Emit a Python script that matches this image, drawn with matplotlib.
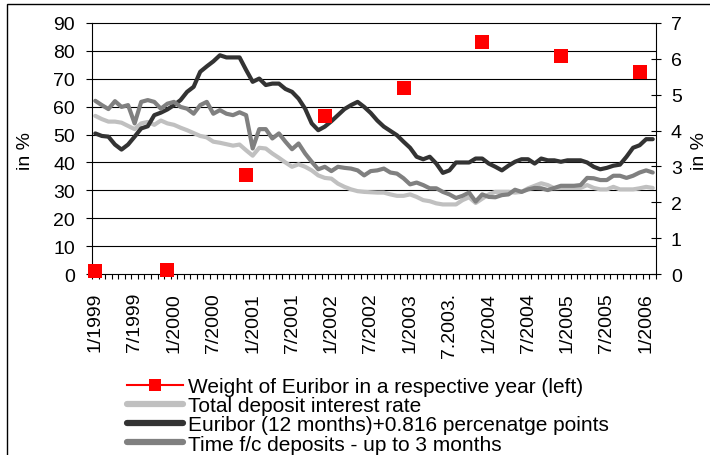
import numpy as np
import pandas as pd
import matplotlib
matplotlib.use("Agg")
import matplotlib.pyplot as plt
from matplotlib.lines import Line2D
from matplotlib.patches import Rectangle
from matplotlib.ticker import FixedLocator

plt.rcParams['font.family'] = ['Liberation Sans', 'DejaVu Sans']

# ---- data ----
months = pd.period_range('1999-01', '2006-02', freq='M').strftime('%Y-%m').tolist()

tick_labels = ['1/1999', '7/1999', '1/2000', '7/2000', '1/2001', '7/2001', '1/2002',
               '7/2002', '1/2003', '7.2003.', '1/2004', '7/2004', '1/2005', '7/2005', '1/2006']
tick_months = ['1999-01', '1999-07', '2000-01', '2000-07', '2001-01', '2001-07', '2002-01',
               '2002-07', '2003-01', '2003-07', '2004-01', '2004-07', '2005-01', '2005-07', '2006-01']

weight_months = ['1999-01', '1999-12', '2000-12', '2001-12', '2002-12', '2003-12', '2004-12', '2005-12']
weight_values = [0.9, 1.6, 35.6, 56.6, 66.6, 83.1, 78.3, 72.5]

total_deposit = [4.41, 4.32, 4.25, 4.25, 4.22, 4.13, 4.04, 4.20, 4.24, 4.16,
                 4.28, 4.20, 4.16, 4.08, 4.01, 3.93, 3.85, 3.81, 3.69, 3.66,
                 3.62, 3.58, 3.61, 3.45, 3.30, 3.52, 3.50, 3.36, 3.24, 3.11,
                 2.99, 3.06, 2.99, 2.89, 2.75, 2.68, 2.66, 2.52, 2.43, 2.36,
                 2.31, 2.29, 2.28, 2.27, 2.27, 2.22, 2.18, 2.18, 2.22, 2.15,
                 2.06, 2.03, 1.97, 1.94, 1.94, 1.94, 2.06, 2.14, 1.98, 2.10,
                 2.22, 2.29, 2.29, 2.29, 2.27, 2.29, 2.39, 2.46, 2.53, 2.48,
                 2.39, 2.40, 2.40, 2.40, 2.40, 2.48, 2.40, 2.36, 2.36, 2.43,
                 2.36, 2.36, 2.36, 2.39, 2.43, 2.40]

euribor_plus = [3.92, 3.85, 3.83, 3.61, 3.47, 3.61, 3.83, 4.06, 4.12, 4.43,
                4.50, 4.59, 4.71, 4.85, 5.08, 5.22, 5.64, 5.79, 5.93, 6.10,
                6.04, 6.04, 6.04, 5.69, 5.36, 5.45, 5.27, 5.31, 5.31, 5.16,
                5.08, 4.89, 4.61, 4.20, 4.01, 4.11, 4.26, 4.43, 4.60, 4.71,
                4.80, 4.66, 4.49, 4.28, 4.11, 3.99, 3.87, 3.69, 3.52, 3.27,
                3.20, 3.27, 3.08, 2.82, 2.89, 3.11, 3.11, 3.11, 3.22, 3.22,
                3.08, 2.99, 2.89, 3.02, 3.13, 3.20, 3.20, 3.08, 3.22, 3.17,
                3.17, 3.13, 3.17, 3.17, 3.17, 3.11, 2.99, 2.92, 2.96, 3.02,
                3.05, 3.27, 3.52, 3.59, 3.76, 3.76]

time_fc = [4.83, 4.71, 4.60, 4.82, 4.66, 4.71, 4.20, 4.80, 4.85, 4.80,
           4.61, 4.75, 4.80, 4.66, 4.61, 4.47, 4.71, 4.80, 4.47, 4.57,
           4.47, 4.43, 4.51, 4.43, 3.50, 4.04, 4.04, 3.78, 3.92, 3.69,
           3.48, 3.64, 3.36, 3.13, 2.92, 2.99, 2.87, 2.99, 2.96, 2.94,
           2.89, 2.75, 2.87, 2.89, 2.94, 2.83, 2.80, 2.67, 2.50, 2.55,
           2.48, 2.39, 2.39, 2.29, 2.22, 2.12, 2.18, 2.27, 2.02, 2.22,
           2.15, 2.14, 2.20, 2.22, 2.35, 2.29, 2.36, 2.40, 2.39, 2.34,
           2.40, 2.46, 2.46, 2.46, 2.48, 2.68, 2.67, 2.62, 2.62, 2.74,
           2.74, 2.68, 2.74, 2.83, 2.89, 2.83]

labels = ['Weight of Euribor in a respective year (left)',
          'Total deposit interest rate',
          'Euribor (12 months)+0.816 percenatge points',
          'Time f/c deposits - up to 3 months']
colors = ['#FF0000', '#C0C0C0', '#333333', '#808080']

# ---- figure ----
W, H = 710, 456
fig = plt.figure(figsize=(W / 100, H / 100), dpi=100)
ax = fig.add_axes([92 / W, 1 - 275 / H, (656 - 92) / W, (275 - 24) / H])
ax2 = ax.twinx()

x = np.arange(len(months))
pos = {m: i for i, m in enumerate(months)}

# right-axis lines
ax2.plot(x, total_deposit, color=colors[1], lw=3.0, solid_joinstyle='round', solid_capstyle='round', zorder=2)
ax2.plot(x, euribor_plus, color=colors[2], lw=3.0, solid_joinstyle='round', solid_capstyle='round', zorder=3)
ax2.plot(x, time_fc, color=colors[3], lw=3.0, solid_joinstyle='round', solid_capstyle='round', zorder=4)

# left-axis squares (on top)
ax.plot([pos[m] for m in weight_months], weight_values, linestyle='none', marker='s',
        markersize=10.5, color=colors[0], markeredgewidth=0, clip_on=False, zorder=5)
ax.set_zorder(ax2.get_zorder() + 1)
ax.patch.set_visible(False)

ax.set_xlim(-0.5, len(months) - 0.5)
ax.set_ylim(0, 90)
ax2.set_ylim(0, 7)

ax.set_yticks(np.arange(0, 91, 10))
ax2.set_yticks(np.arange(0, 8, 1))

# gridlines at the left-axis ticks, drawn behind the lines on ax2
ax2.yaxis.set_minor_locator(FixedLocator(np.arange(10, 91, 10) * 7 / 90))
ax2.grid(which='minor', axis='y', color='black', lw=0.8)
ax2.tick_params(axis='y', which='minor', length=0)

ax.set_xticks([pos[m] for m in tick_months])
ax.set_xticklabels(tick_labels, rotation=90, fontsize=14)
ax.set_xticks(np.arange(-0.5, len(months), 1), minor=True)
ax.tick_params(axis='x', which='major', length=0, pad=13)
ax.tick_params(axis='x', which='minor', length=3.6, width=0.8, direction='out')
ax.tick_params(axis='y', direction='out', length=4.3, width=0.8, pad=7.9, labelsize=14)
ax2.tick_params(axis='y', which='major', direction='inout', length=6.5, width=0.8, pad=7.5, labelsize=14)

for s in ['left', 'bottom', 'top']:
    ax.spines[s].set_linewidth(0.8)
ax.spines['right'].set_visible(False)
for s in ['left', 'bottom', 'top']:
    ax2.spines[s].set_visible(False)
ax2.spines['right'].set_linewidth(0.8)

ax.set_ylabel('in %', fontsize=14, ha='center', va='center', rotation=90)
ax.yaxis.set_label_coords(25.5 / W, 1 - 151 / H, transform=fig.transFigure)
ax2.set_ylabel('in %', fontsize=14, ha='center', va='center', rotation=90)
ax2.yaxis.set_label_coords(700 / W, 1 - 151 / H, transform=fig.transFigure)

handles = [Line2D([], [], color=colors[0], lw=1.5, marker='s', markersize=8, markeredgewidth=0),
           Line2D([], [], color=colors[1], lw=4.5, solid_capstyle='round'),
           Line2D([], [], color=colors[2], lw=4.5, solid_capstyle='round'),
           Line2D([], [], color=colors[3], lw=4.5, solid_capstyle='round')]
fig.legend(handles, labels, loc='upper left', bbox_to_anchor=(127 / W, 1 - 378 / H),
           frameon=False, fontsize=15, handlelength=2.7, handletextpad=0.24,
           labelspacing=0.01, borderpad=0, borderaxespad=0)

fig.add_artist(Rectangle((6.5 / W, -0.1), 1.2, 1.1 - 5 / H, transform=fig.transFigure,
                         fill=False, ec='black', lw=1.0))

fig.savefig('out.png', dpi=100)
